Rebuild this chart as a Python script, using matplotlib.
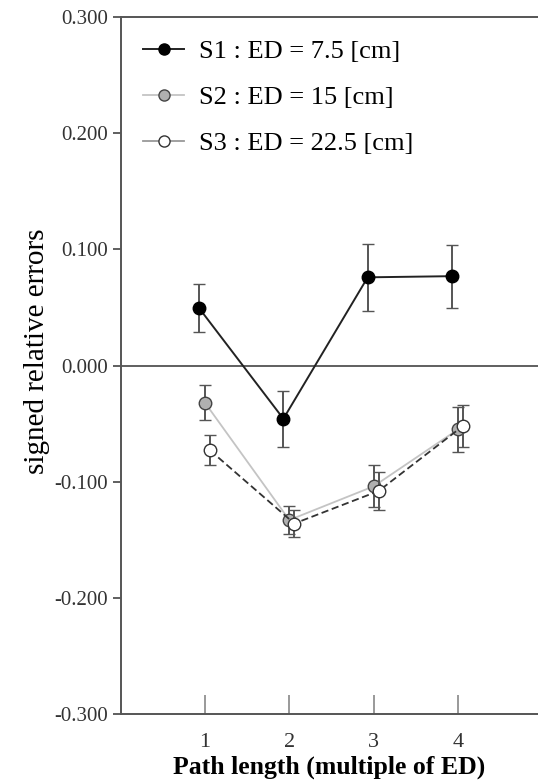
import numpy as np
import matplotlib
matplotlib.use('Agg')
import matplotlib.pyplot as plt
from matplotlib.lines import Line2D

plt.rcParams['font.family'] = ['Liberation Serif', 'DejaVu Serif']

path_len = [1, 2, 3, 4]
x_ticks = [1, 2, 3, 4]
y_ticks = [-0.3, -0.2, -0.1, 0.0, 0.1, 0.2, 0.3]

s1_mean = [0.0495, -0.0458, 0.076, 0.077]
s1_err = [0.021, 0.024, 0.029, 0.027]
s2_mean = [-0.032, -0.133, -0.104, -0.055]
s2_err = [0.015, 0.012, 0.018, 0.019]
s3_mean = [-0.073, -0.136, -0.108, -0.052]
s3_err = [0.013, 0.012, 0.016, 0.018]

labels = ['S1 : ED = 7.5 [cm]', 'S2 : ED = 15 [cm]', 'S3 : ED = 22.5 [cm]']

fig = plt.figure(figsize=(5.38, 7.82), dpi=100)
ax = fig.add_axes([0.2243, 0.087, 0.7757, 0.891])

ax.axhline(0, color='#444444', lw=1.2, zorder=1)

x = np.array(path_len, dtype=float)
ebar = dict(ecolor='#555555', elinewidth=1.4, capsize=4, capthick=1.4)

s3_style = dict(color='#333333', lw=1.3, ls=(0, (4, 2)), marker='o', mfc='white', mec='#333333', mew=1.0)
s2_style = dict(color='#c4c4c4', lw=1.3, ls='-', marker='o', mfc='#b0b0b0', mec='#444444', mew=1.0)
s1_style = dict(color='#222222', lw=1.4, ls='-', marker='o', mfc='black', mec='black', mew=1.0)

ax.errorbar(x + 0.06, s3_mean, yerr=s3_err, ms=9, zorder=3, **s3_style, **ebar)
ax.errorbar(x, s2_mean, yerr=s2_err, ms=9, zorder=2, **s2_style, **ebar)
ax.errorbar(x - 0.07, s1_mean, yerr=s1_err, ms=9, zorder=4, **s1_style, **ebar)

ax.set_xlim(0, 4.95)
ax.set_ylim(-0.3, 0.3)
ax.set_xticks(x_ticks)
ax.set_yticks(y_ticks)
ax.set_yticklabels(['%.3f' % v for v in y_ticks])
ax.tick_params(axis='y', direction='out', length=6, width=1.2, color='#444444',
               labelsize=15, labelcolor='#333333', pad=3)
ax.tick_params(axis='x', direction='in', length=14, width=1.2, color='#888888',
               labelsize=16, labelcolor='#333333', pad=14)

for side in ['left', 'bottom', 'top']:
    ax.spines[side].set_color('#555555')
    ax.spines[side].set_linewidth(1.4)
ax.spines['right'].set_visible(False)

ax.set_ylabel('signed relative errors', fontsize=21)
ax.yaxis.set_label_coords(-0.17, 0.52)
ax.set_xlabel('Path length (multiple of ED)', fontsize=18.5, fontweight='bold', labelpad=2)

handles = [
    Line2D([], [], ms=8, **s1_style),
    Line2D([], [], ms=8, **dict(s2_style, ls='-')),
    Line2D([], [], ms=8, **dict(s3_style, ls='-', color='#999999')),
]
ax.legend(handles, labels, loc='upper left', frameon=False, fontsize=19,
          handlelength=1.55, labelspacing=0.85, borderaxespad=0.4, handletextpad=0.55,
          borderpad=0.45)

fig.savefig('out.png', dpi=100)
